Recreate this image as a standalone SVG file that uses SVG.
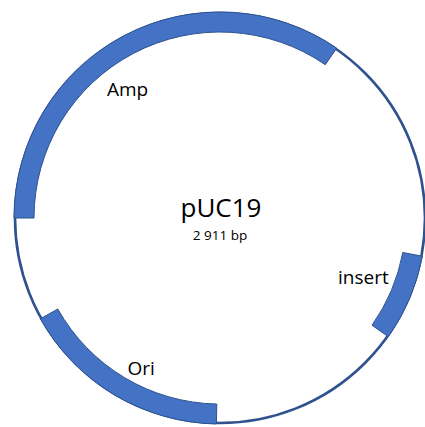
<svg xmlns="http://www.w3.org/2000/svg" width="425" height="427" viewBox="0 0 425 427">
  <style>
    .backbone { fill: none; stroke: #2F528F; stroke-width: 2.6; }
    .feature { fill: #4472C4; stroke: #2F528F; stroke-width: 1; stroke-linejoin: miter; }
    .label { font-family: "Open Sans", "Noto Sans", "Liberation Sans", sans-serif; fill: #000000; }
  </style>
  <rect width="425" height="427" fill="#FFFFFF"/>

  <!-- plasmid backbone -->
  <g id="backbone">
    <circle class="backbone" cx="220" cy="218" r="205"/>
  </g>

  <!-- annotated features: annular sectors, outer r=206, inner r=186 -->
  <g id="amp">
    <path class="feature" d="M14,218 A206,206 0 0 1 336.7,48.2 L325.3,64.7 A186,186 0 0 0 34,218 Z"/>
    <text class="label" x="107" y="96" font-size="19">Amp</text>
  </g>

  <g id="ori">
    <path class="feature" d="M216.4,424 A206,206 0 0 1 40.4,318.8 L57.8,309 A186,186 0 0 0 216.8,404 Z"/>
    <text class="label" x="127.5" y="375" font-size="19">Ori</text>
  </g>

  <g id="insert">
    <path class="feature" d="M422.4,256.2 A206,206 0 0 1 388.3,336.7 L372,325.2 A186,186 0 0 0 402.8,252.5 Z"/>
    <text class="label" x="338" y="284" font-size="19">insert</text>
  </g>

  <!-- plasmid name and size -->
  <g id="title">
    <text class="label" x="221" y="217" font-size="26" text-anchor="middle">pUC19</text>
    <text class="label" x="220" y="240" font-size="13.5" text-anchor="middle">2 911 bp</text>
  </g>
</svg>
